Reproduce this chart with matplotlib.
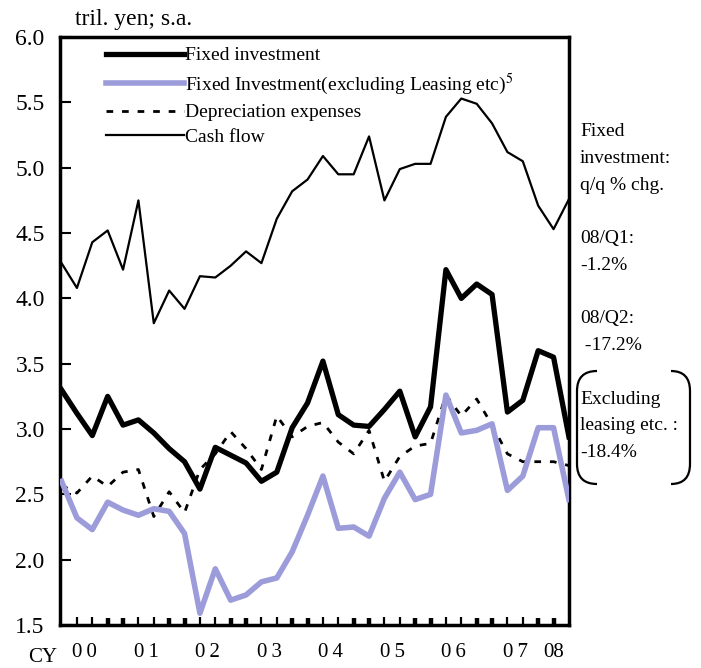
import numpy as np
import matplotlib
matplotlib.use("Agg")
import matplotlib.pyplot as plt
from matplotlib.path import Path
from matplotlib.patches import PathPatch

plt.rcParams['font.family'] = ['Liberation Serif', 'DejaVu Serif']
plt.rcParams['mathtext.fontset'] = 'stix'

# quarterly data, 2000/Q1 - 2008/Q2 (tril. yen, s.a.)
fixed_inv = [3.30, 3.12, 2.95, 3.25, 3.03, 3.07, 2.97, 2.85, 2.75, 2.54,
             2.86, 2.80, 2.74, 2.60, 2.67, 3.01, 3.20, 3.52, 3.11, 3.03,
             3.02, 3.15, 3.29, 2.94, 3.17, 4.22, 4.00, 4.11, 4.03, 3.13,
             3.22, 3.60, 3.55, 2.94]
fixed_inv_ex = [2.60, 2.32, 2.23, 2.44, 2.38, 2.34, 2.39, 2.37, 2.20, 1.59,
                1.93, 1.69, 1.73, 1.83, 1.86, 2.06, 2.34, 2.64, 2.24, 2.25,
                2.18, 2.47, 2.67, 2.46, 2.50, 3.26, 2.97, 2.99, 3.04, 2.53,
                2.64, 3.01, 3.01, 2.46]
depreciation = [2.57, 2.51, 2.64, 2.56, 2.67, 2.69, 2.33, 2.52, 2.36, 2.69,
                2.81, 2.98, 2.85, 2.69, 3.10, 2.94, 3.02, 3.05, 2.90, 2.81,
                2.99, 2.60, 2.79, 2.87, 2.89, 3.26, 3.10, 3.23, 3.03, 2.81,
                2.75, 2.75, 2.75, 2.72]
cash_flow = [4.27, 4.08, 4.43, 4.52, 4.22, 4.75, 3.81, 4.06, 3.92, 4.17,
             4.16, 4.25, 4.36, 4.27, 4.61, 4.82, 4.91, 5.09, 4.95, 4.95,
             5.24, 4.75, 4.99, 5.03, 5.03, 5.39, 5.53, 5.49, 5.34, 5.12,
             5.05, 4.71, 4.53, 4.76]
year_labels = ["0\u20090", "0\u20091", "0\u20092", "0\u20093", "0\u20094",
               "0\u20095", "0\u20096", "0\u20097", "08"]
note_text = ("Fixed\ninvestment:\nq/q % chg.\n\n08/Q1:\n-1.2%\n\n08/Q2:\n -17.2%\n\n"
             "Excluding\nleasing etc. :\n-18.4%")

x = np.arange(len(cash_flow))

fig = plt.figure(figsize=(7.01, 6.68), dpi=100)
ax = fig.add_axes([0.0856, 0.0644, 0.726, 0.880])

ax.plot(x, cash_flow, color='black', lw=1.6, label='Cash flow', zorder=3)
ax.plot(x, depreciation, color='black', lw=2.0, dashes=(2.4, 3.2),
        label='Depreciation expenses', zorder=3)
ax.plot(x, fixed_inv_ex, color='#9c9cda', lw=4.0,
        label='Fixed Investment(excluding Leasing etc)$^{5}$', zorder=4)
ax.plot(x, fixed_inv, color='black', lw=3.8, label='Fixed investment', zorder=5)

ax.set_xlim(-0.1, 33.0)
ax.set_ylim(1.5, 6.0)
ax.set_yticks(np.arange(1.5, 6.01, 0.5))
ax.set_yticklabels(["%.1f" % v for v in np.arange(1.5, 6.01, 0.5)], fontsize=17)
ax.tick_params(axis='y', direction='in', length=8, width=1.5, pad=11, right=False)

quarters = np.arange(1, 33)
ax.xaxis.set_ticks([q for q in quarters if q % 4 in (3, 0)])
ax.xaxis.set_ticks([q for q in quarters if q % 4 in (1, 2)], minor=True)
ax.tick_params(axis='x', which='major', direction='in', length=5, width=3.2,
               labelbottom=False)
ax.tick_params(axis='x', which='minor', direction='in', length=5.5, width=1.6,
               bottom=True, labelbottom=False)

for sp in ax.spines.values():
    sp.set_linewidth(2.5)

# year labels
label_pos = [4 * k + 1.5 for k in range(8)] + [32.0]
for pos, lab in zip(label_pos, year_labels):
    ax.text(pos, -0.047, lab, transform=ax.get_xaxis_transform(),
            ha='center', va='center', fontsize=15)
fig.text(43 / 701, 1 - 657 / 668, "CY", ha='center', va='center', fontsize=15)
fig.text(75 / 701, 1 - 20 / 668, "tril. yen; s.a.", ha='left', va='center',
         fontsize=17)

# legend
handles, labels = ax.get_legend_handles_labels()
order = [3, 2, 1, 0]
ax.legend([handles[i] for i in order], [labels[i] for i in order],
          loc='upper left', bbox_to_anchor=(0.072, 1.0), frameon=False,
          fontsize=14, handlelength=4.0, handletextpad=0.05, borderpad=0,
          labelspacing=0.36)

# note on the right
fig.text(580 / 701, 1 - 123 / 668, note_text, ha='left', va='top',
         fontsize=14, linespacing=1.75)


def bracket(x0, x_end, y_top, y_bot, r):
    verts = [(x_end, y_top), (x0, y_top), (x0, y_top - r),
             (x0, y_bot + r), (x0, y_bot), (x_end, y_bot)]
    codes = [Path.MOVETO, Path.CURVE3, Path.CURVE3,
             Path.LINETO, Path.CURVE3, Path.CURVE3]
    return PathPatch(Path(verts, codes), transform=fig.transFigure,
                     fill=False, lw=1.6, color='black')


fig.patches.append(bracket(577 / 701, 597 / 701, 1 - 371 / 668, 1 - 484 / 668, 0.03))
fig.patches.append(bracket(690 / 701, 671 / 701, 1 - 371 / 668, 1 - 484 / 668, 0.03))

fig.savefig("out.png", dpi=100)
